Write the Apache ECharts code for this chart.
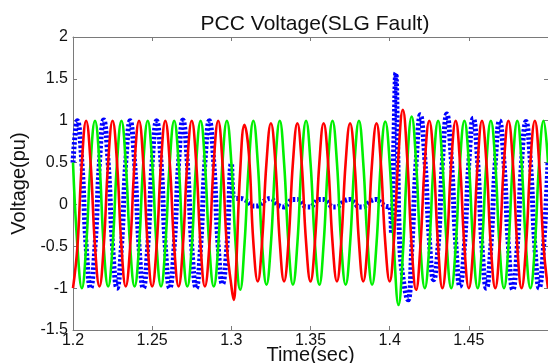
<!DOCTYPE html>
<html>
<head>
<meta charset="utf-8">
<script src="https://cdn.jsdelivr.net/npm/echarts@6/dist/echarts.min.js"></script>
<style>
html,body{margin:0;padding:0;background:#fff;overflow:hidden;}
#c{width:548px;height:363px;}
</style>
</head>
<body>
<div id="c"></div>
<script>
// Time samples (sec), every 1/6 cycle of 60 Hz
const time = [
1.2000,1.2028,1.2056,1.2083,1.2111,1.2139,1.2167,1.2194,1.2222,1.2250,1.2278,1.2306,1.2333,1.2361,1.2389,1.2417,1.2444,1.2472,
1.2500,1.2528,1.2556,1.2583,1.2611,1.2639,1.2667,1.2694,1.2722,1.2750,1.2778,1.2806,1.2833,1.2861,1.2889,1.2917,1.2944,1.2972,
1.3000,1.3028,1.3056,1.3083,1.3111,1.3139,1.3167,1.3194,1.3222,1.3250,1.3278,1.3306,1.3333,1.3361,1.3389,1.3417,1.3444,1.3472,
1.3500,1.3528,1.3556,1.3583,1.3611,1.3639,1.3667,1.3694,1.3722,1.3750,1.3778,1.3806,1.3833,1.3861,1.3889,1.3917,1.3944,1.3972,
1.4000,1.4028,1.4056,1.4083,1.4111,1.4139,1.4167,1.4194,1.4222,1.4250,1.4278,1.4306,1.4333,1.4361,1.4389,1.4417,1.4444,1.4472,
1.4500,1.4528,1.4556,1.4583,1.4611,1.4639,1.4667,1.4694,1.4722,1.4750,1.4778,1.4806,1.4833,1.4861,1.4889,1.4917,1.4944,1.4972,
1.5000];

// Phase voltages (pu) read at those times; null = replaced by detail points
const blueV = [
0.5,1,0.5,-0.5,-1,-0.5, 0.5,1.01,0.5,-0.5,-1,-0.5, 0.5,1,0.5,-0.5,-1,-0.5,
0.5,1,0.5,-0.5,-1,-0.5, 0.5,1.01,0.5,-0.5,-1,-0.5, 0.5,1,0.5,-0.5,-0.95,-0.5,
0.49,0.07,0.07,0.06,0.02,-0.02, -0.02,0.02,0.06,0.07,0.02,-0.02, -0.03,0.02,0.06,0.06,0.02,-0.03,
-0.03,0.02,0.06,0.06,0.02,-0.03, -0.03,0.01,0.05,0.06,0.02,-0.03, -0.03,0.01,0.05,0.06,0.02,-0.02,
-0.03,null,null,null,null,-0.55, 0.5,1.07,0.55,-0.4,-0.9,-0.5, 0.5,1.08,0.55,-0.45,-0.98,-0.5,
0.5,1.03,0.5,-0.5,-1,-0.5, 0.5,1,0.5,-0.5,-1.02,-0.5, 0.5,0.99,0.5,-0.5,-1,-0.5,
0.5];
const blueExtra = [[1.3012,0.1],[1.4012,-0.35],[1.4026,0.7],[1.4039,1.57],[1.4050,0.7],[1.4062,-0.4],[1.4082,-0.85],[1.4116,-1.14]];

const redV = [
-1,-0.5,0.5,1,0.5,-0.5, -0.98,-0.5,0.5,1,0.5,-0.5, -0.98,-0.5,0.5,1,0.5,-0.5,
-0.98,-0.5,0.5,1,0.5,-0.5, -0.98,-0.5,0.5,1,0.5,-0.5, -0.98,-0.5,0.5,1,0.5,-0.5,
-0.97,-0.85,0.4,0.95,0.6,-0.45, -0.92,-0.45,0.5,0.97,0.5,-0.45, -0.92,-0.45,0.5,0.97,0.5,-0.45,
-0.92,-0.45,0.5,0.97,0.5,-0.45, -0.92,-0.45,0.5,0.97,0.5,-0.45, -0.92,-0.45,0.5,0.97,0.5,-0.45,
-0.92,-0.4,0.6,1.13,0.55,-0.5, -1.02,-0.5,0.5,1,0.5,-0.5, -1,-0.5,0.5,1,0.5,-0.5,
-1,-0.5,0.5,1,0.5,-0.5, -1,-0.5,0.5,1,0.5,-0.5, -1,-0.5,0.5,1,0.5,-0.5,
-1];
const redExtra = [[1.3015,-1.14]];

const greenV = [
0.5,-0.5,-1,-0.5,0.5,1, 0.5,-0.5,-0.98,-0.5,0.5,1, 0.5,-0.5,-0.98,-0.5,0.5,1,
0.5,-0.5,-0.98,-0.5,0.5,1, 0.5,-0.5,-0.98,-0.5,0.5,1, 0.5,-0.5,-0.98,-0.5,0.5,1,
0.5,-0.5,-1.02,-0.48,0.5,1, 0.5,-0.47,-0.96,-0.47,0.5,1, 0.5,-0.47,-0.96,-0.47,0.5,1,
0.5,-0.47,-0.96,-0.47,0.5,1, 0.5,-0.47,-0.96,-0.47,0.5,1, 0.5,-0.47,-0.96,-0.47,0.5,0.99,
0.5,-0.55,-1.2,-0.6,0.5,1.05, 0.5,-0.5,-1,-0.5,0.5,1, 0.5,-0.5,-1,-0.5,0.5,1,
0.5,-0.5,-1,-0.5,0.5,1, 0.5,-0.5,-1,-0.5,0.5,1, 0.5,-0.5,-1,-0.5,0.5,1,
0.5];
const greenExtra = [];

const xTicks = [1.2,1.25,1.3,1.35,1.4,1.45,1.5];
const yTicks = [-1.5,-1,-0.5,0,0.5,1,1.5,2];

function build(vals, extra){
  const pts = [];
  time.forEach((t,i)=>{ if(vals[i]!==null) pts.push([t, vals[i]]); });
  extra.forEach(p=>pts.push(p));
  pts.sort((a,b)=>a[0]-b[0]);
  return pts;
}

const FONT = 'Liberation Sans, Arial, sans-serif';
const axisLineStyle = {color:'#7a7a7a', width:1};
const chart = echarts.init(document.getElementById('c'), null, {renderer:'canvas'});
chart.setOption({
  animation:false,
  backgroundColor:'#ffffff',
  title:{
    text:'PCC Voltage(SLG Fault)',
    left:310, top:9, textAlign:'center',
    textStyle:{fontFamily:FONT, fontSize:21, fontWeight:'normal', color:'#111'}
  },
  grid:{left:73, right:0, top:37, bottom:33, containLabel:false, outerBoundsMode:'none'},
  xAxis:[{
    type:'value', min:xTicks[0], max:xTicks[xTicks.length-1], interval:0.05,
    name:'Time(sec)', nameLocation:'middle', nameGap:15, nameMoveOverlap:false,
    nameTextStyle:{fontFamily:FONT, fontSize:20, color:'#111', verticalAlign:'top'},
    axisLine:{show:true, onZero:false, lineStyle:axisLineStyle},
    axisTick:{show:true, inside:true, length:4, lineStyle:axisLineStyle},
    axisLabel:{fontFamily:FONT, fontSize:16, color:'#111', margin:3, showMaxLabel:false,
      formatter:v=>String(+v.toFixed(2))},
    splitLine:{show:false}
  },{
    type:'value', position:'top', min:xTicks[0], max:xTicks[xTicks.length-1], interval:0.05,
    axisLine:{show:true, onZero:false, lineStyle:axisLineStyle},
    axisTick:{show:true, inside:true, length:4, lineStyle:axisLineStyle},
    axisLabel:{show:false}, splitLine:{show:false}
  }],
  yAxis:[{
    type:'value', min:yTicks[0], max:yTicks[yTicks.length-1], interval:0.5,
    name:'Voltage(pu)', nameLocation:'middle', nameGap:36, nameRotate:90,
    nameTextStyle:{fontFamily:FONT, fontSize:20, color:'#111'},
    axisLine:{show:true, onZero:false, lineStyle:axisLineStyle},
    axisTick:{show:true, inside:true, length:4, lineStyle:axisLineStyle},
    axisLabel:{fontFamily:FONT, fontSize:16, color:'#111', margin:5,
      formatter:v=>String(+v.toFixed(2))},
    splitLine:{show:false}
  },{
    type:'value', position:'right', min:yTicks[0], max:yTicks[yTicks.length-1], interval:0.5,
    axisLine:{show:true, onZero:false, lineStyle:axisLineStyle},
    axisTick:{show:true, inside:true, length:4, lineStyle:axisLineStyle},
    axisLabel:{show:false}, splitLine:{show:false}
  }],
  series:[
    {type:'line', name:'Va', data:build(blueV, blueExtra), showSymbol:false, smooth:0.45,
      lineStyle:{color:'#0000ff', width:5, type:[2.5,2], cap:'butt'}, z:2},
    {type:'line', name:'Vc', data:build(greenV, greenExtra), showSymbol:false, smooth:0.45,
      lineStyle:{color:'#00f000', width:2.6}, z:3},
    {type:'line', name:'Vb', data:build(redV, redExtra), showSymbol:false, smooth:0.45,
      lineStyle:{color:'#ff0000', width:2.6}, z:4}
  ]
});
</script>
</body>
</html>
